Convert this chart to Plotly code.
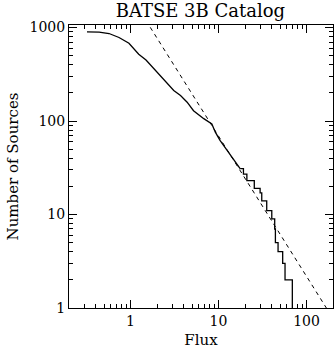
import plotly.graph_objects as go

# Cumulative source counts, smooth portion (flux, N(>flux))
smooth_flux = [0.32, 0.44, 0.57, 0.74, 0.96, 1.24, 1.5, 1.95, 2.5, 3.1, 3.7, 4.4, 5.2, 6.8, 8.4, 9.2, 10.4, 11.9, 14.8, 17.6]
smooth_n = [900, 895, 863, 782, 679, 518, 450, 345, 265, 212, 187, 159, 129, 106, 93, 76, 62, 52, 38, 31]

# Stepped tail (flux where the count drops, count after the drop)
tail_flux = [17.6, 19.2, 21.0, 25.5, 29.7, 31.0, 35.3, 40.3, 43.5, 44.3, 47.5, 53.6, 57.0, 69.0]
tail_n = [31, 27, 23, 19, 17, 14, 11, 9, 7, 5, 4, 3, 2, 1]

# Euclidean (-3/2) reference line end points
fit_flux = [1.5, 170]
fit_n = [1187, 0.984]

x_ticks = [1, 10, 100]
x_minor = [0.3, 0.4, 0.5, 0.6, 0.7, 0.8, 0.9, 2, 3, 4, 5, 6, 7, 8, 9,
           20, 30, 40, 50, 60, 70, 80, 90]
y_ticks = [1, 10, 100, 1000]
y_minor = [2, 3, 4, 5, 6, 7, 8, 9, 20, 30, 40, 50, 60, 70, 80, 90,
           200, 300, 400, 500, 600, 700, 800, 900]

FONT = "DejaVu Serif"

fig = go.Figure()
fig.add_trace(go.Scatter(x=fit_flux, y=fit_n, mode="lines",
                         line=dict(color="black", width=1, dash="4px,4px")))
fig.add_trace(go.Scatter(x=smooth_flux, y=smooth_n, mode="lines",
                         line=dict(color="black", width=1.3)))
fig.add_trace(go.Scatter(x=tail_flux, y=tail_n, mode="lines",
                         line=dict(color="black", width=1.3, shape="hv")))

axis_common = dict(
    type="log", showgrid=False, zeroline=False,
    showline=True, linecolor="black", linewidth=1, mirror="ticks",
    ticks="inside", ticklen=8, tickcolor="black", tickwidth=1,
    tickfont=dict(family=FONT, size=14, color="black"),
    automargin=False,
)

fig.update_layout(
    width=334, height=350,
    margin=dict(l=69, r=1, t=25, b=42),
    paper_bgcolor="white", plot_bgcolor="white",
    showlegend=False,
    title=dict(text="BATSE 3B Catalog", x=0.6, xanchor="center", y=0.97, yanchor="middle",
               font=dict(family=FONT, size=18, color="black")),
    xaxis=dict(axis_common, range=[-0.699, 2.301], tickvals=x_ticks, ticktext=[str(v) for v in x_ticks],
               minor=dict(tickvals=x_minor, ticks="inside", ticklen=4, tickcolor="black", tickwidth=1, showgrid=False),
               title=dict(text="Flux", font=dict(family=FONT, size=15, color="black"), standoff=6)),
    yaxis=dict(axis_common, range=[0, 3.027], tickvals=y_ticks, ticktext=[str(v) for v in y_ticks],
               minor=dict(tickvals=y_minor, ticks="inside", ticklen=4, tickcolor="black", tickwidth=1, showgrid=False),
               title=dict(text="Number of Sources", font=dict(family=FONT, size=15, color="black"), standoff=7)),
)

fig.write_html("out.html", config={"displayModeBar": False},
               post_script="document.body.style.margin='0';")
